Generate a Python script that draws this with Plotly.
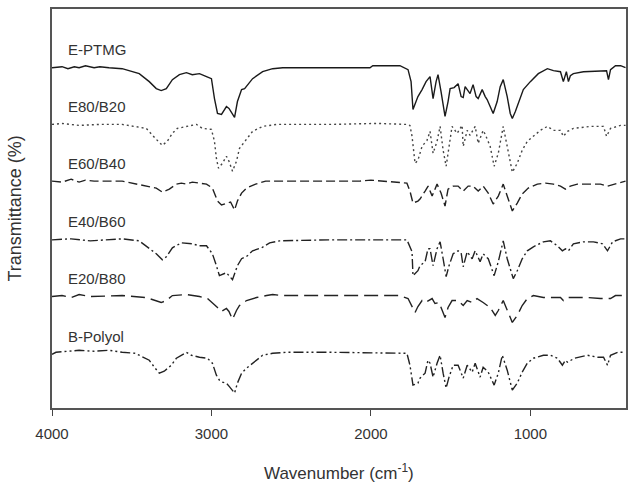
import plotly.graph_objects as go

# ---- data (wavenumber in cm^-1, transmittance in arbitrary stacked units) ----
wn_eptmg = [4000,3937,3900,3860,3830,3790,3736,3700,3642,3560,3453,3390,3346,3315,3283,3245,3201,3157,3120,3075,
            3031,3000,2981,2962,2937,2906,2890,2855,2837,2811,2792,2770,2742,2679,2616,2553,2258,2006,1988,1881,
            1818,1767,1748,1736,1717,1705,1679,1654,1629,1610,1591,1579,1560,1535,1516,1503,1478,1453,1434,1421,
            1409,1396,1378,1359,1340,1327,1302,1283,1271,1252,1233,1208,1189,1170,1145,1126,1113,1094,1076,1044,
            1000,950,893,855,811,793,774,761,749,730,667,579,522,510,497,466,434,403]
t_eptmg = [334,335,333,335,334,336,334,335,334,333,328,320,313,311,313,322,327,329,327,328,
           325,323,303,288,287,295,293,284,300,312,313,317,323,330,333,334,334,334,336,336,
           336,332,320,292,300,305,312,320,325,303,320,327,310,285,300,313,314,318,305,304,
           315,312,308,317,305,303,312,305,302,295,288,300,315,322,305,288,283,290,298,312,
           320,328,333,331,330,320,330,320,326,328,330,331,331,322,332,336,336,334]

wn_e80 = [4000,3937,3830,3700,3560,3409,3346,3308,3277,3245,3214,3157,3094,3057,3000,2981,2969,2956,2931,2906,
          2890,2868,2843,2824,2792,2742,2679,2591,2258,1962,1774,1755,1742,1723,1705,1679,1648,1629,1610,1585,
          1566,1547,1528,1516,1491,1459,1428,1421,1396,1378,1346,1327,1296,1283,1252,1227,1201,1170,1145,1113,
          1082,1051,1019,981,937,893,855,811,793,767,730,623,541,522,497,434,403]
t_e80 = [277,278,276,277,277,273,262,256,260,268,273,275,277,273,272,260,243,233,238,245,
         240,230,240,253,260,270,275,277,277,278,277,276,265,238,241,255,261,270,248,260,
         275,251,235,248,275,268,276,255,271,266,275,258,271,267,255,235,248,275,255,229,
         238,251,260,265,271,275,271,271,265,270,273,275,275,265,273,276,276]

wn_e60 = [4000,3937,3880,3830,3790,3736,3642,3560,3346,3308,3264,3220,3189,3157,3120,3031,2994,2962,2937,2906,
          2880,2855,2837,2811,2780,2723,2660,2258,2069,2000,1818,1774,1755,1736,1705,1692,1660,1641,1616,1585,
          1560,1535,1516,1484,1453,1421,1390,1359,1327,1296,1264,1233,1201,1170,1145,1113,1082,1051,1013,956,
          905,855,811,780,749,705,623,560,516,453,403]
t_e60 = [220,219,222,219,221,220,220,220,213,209,212,217,218,217,219,217,213,200,196,198,
         199,191,200,208,213,217,220,220,220,221,218,218,210,198,200,202,210,215,205,217,
         208,195,212,215,215,210,215,215,210,215,208,197,205,217,205,190,198,207,213,217,
         218,217,215,212,215,217,217,217,215,218,220]

wn_e40 = [4000,3880,3760,3642,3560,3453,3409,3346,3308,3283,3245,3189,3120,3075,3031,2994,2969,2950,2906,2890,
          2868,2837,2811,2774,2742,2685,2635,2572,2258,1800,1774,1742,1736,1705,1692,1660,1642,1629,1610,1585,
          1566,1547,1528,1510,1484,1453,1434,1421,1396,1365,1346,1315,1296,1264,1227,1201,1170,1145,1107,1082,
          1051,1019,981,918,874,830,799,780,761,730,667,604,547,516,484,434,403]
t_e40 = [161,162,160,161,162,160,155,147,141,144,153,158,157,155,155,147,135,125,128,125,
         121,135,142,145,150,153,158,160,161,161,161,149,125,130,135,139,152,152,135,152,
         159,142,124,135,147,150,148,134,149,142,150,139,147,142,125,139,160,142,122,130,
         142,150,154,159,160,155,150,152,150,157,159,159,157,150,159,162,162]

wn_e20 = [4000,3937,3880,3830,3760,3642,3560,3409,3346,3315,3283,3245,3157,3075,3025,2994,2962,2937,2906,2890,
          2868,2843,2824,2780,2717,2654,2616,2553,2258,1824,1767,1742,1723,1705,1679,1660,1616,1598,1572,1535,
          1516,1491,1453,1421,1396,1365,1334,1296,1252,1220,1201,1170,1145,1113,1082,1051,1019,981,918,855,
          811,793,767,730,642,560,497,466,403]
t_e20 = [104,105,103,106,104,105,105,103,100,98,100,105,106,104,102,98,93,89,92,89,
         81,90,95,100,103,105,106,105,105,105,102,93,88,94,100,98,102,97,98,83,
         93,100,100,95,100,98,102,98,93,85,90,100,90,78,85,95,102,105,103,103,
         103,100,103,103,103,102,102,105,105]

wn_bpol = [4000,3975,3830,3736,3642,3560,3478,3390,3358,3327,3296,3252,3220,3189,3157,3126,3075,3025,2994,2969,
           2950,2931,2906,2890,2855,2837,2811,2780,2742,2679,2616,2528,2258,1774,1755,1736,1705,1692,1660,1642,
           1629,1610,1585,1566,1547,1528,1510,1484,1453,1421,1396,1365,1346,1315,1296,1264,1227,1201,1176,1145,
           1113,1082,1051,1019,981,918,874,830,799,780,767,723,642,579,541,516,497,453,415,403]
t_bpol = [46,48,50,49,50,48,47,40,33,27,29,35,42,45,48,45,43,42,37,25,
          20,18,17,14,7,17,27,32,37,45,47,48,48,47,35,15,17,22,27,40,
          37,23,37,45,27,12,23,35,35,22,35,28,37,23,33,28,15,27,45,30,
          10,17,28,37,42,45,45,42,35,40,38,42,45,43,43,35,45,48,48,48]

series_names = ["E-PTMG", "E80/B20", "E60/B40", "E40/B60", "E20/B80", "B-Polyol"]
x_ticks = [4000, 3000, 2000, 1000]

# ---- styling ----
series = [(wn_eptmg, t_eptmg), (wn_e80, t_e80), (wn_e60, t_e60),
          (wn_e40, t_e40), (wn_e20, t_e20), (wn_bpol, t_bpol)]
dashes = ["solid", "2px,3px", "9px,4px", "10px,3px,2px,3px",
          "14px,6px", "10px,3px,2px,3px,2px,3px"]
colors = ["#1a1a1a", "#444444", "#222222", "#222222", "#222222", "#222222"]
FONT = "Liberation Sans, Arial, sans-serif"

fig = go.Figure()
for (xs, ys), name, dash, col in zip(series, series_names, dashes, colors):
    fig.add_trace(go.Scatter(x=xs, y=ys, mode="lines", name=name,
                             line=dict(color=col, width=1.4, dash=dash),
                             showlegend=False, hoverinfo="skip"))
    fig.add_annotation(x=3912, y=ys[0] + 18, text=name, showarrow=False,
                       xanchor="left", yanchor="middle",
                       font=dict(family=FONT, size=15, color="#333333"))

fig.update_xaxes(range=[4000, 400], tickvals=x_ticks, ticktext=[str(v) for v in x_ticks],
                 ticks="outside", ticklen=6, tickwidth=1.3, tickcolor="#444",
                 showline=True, linecolor="#555", linewidth=1.6, mirror=True,
                 showgrid=False, zeroline=False, ticklabelstandoff=5,
                 tickfont=dict(family=FONT, size=15, color="#333"))
fig.update_yaxes(range=[-8, 393], showticklabels=False, ticks="",
                 showline=True, linecolor="#555", linewidth=1.6, mirror=True,
                 showgrid=False, zeroline=False)

fig.add_annotation(xref="paper", yref="paper", x=0.5, y=-0.16,
                   text="Wavenumber (cm<sup>-1</sup>)", showarrow=False,
                   xanchor="center", yanchor="middle",
                   font=dict(family=FONT, size=17, color="#333"))
fig.add_annotation(xref="paper", yref="paper", x=-0.066, y=0.5,
                   text="Transmittance (%)", showarrow=False, textangle=-90,
                   xanchor="center", yanchor="middle",
                   font=dict(family=FONT, size=18, color="#333"))

fig.update_layout(width=639, height=482, margin=dict(l=52, r=13, t=7, b=74),
                  plot_bgcolor="white", paper_bgcolor="white")

fig.write_html("out.html")
